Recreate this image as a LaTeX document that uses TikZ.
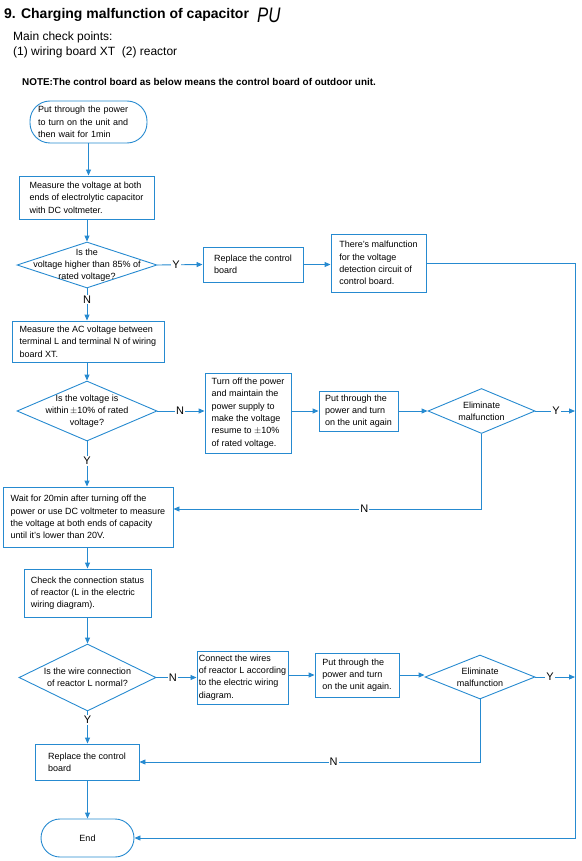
\documentclass[tikz,border=0pt]{standalone}
\usepackage{fontspec}
\setmainfont{Liberation Sans}
\usetikzlibrary{arrows.meta,shapes.geometric}
\definecolor{bl}{RGB}{38,138,208}
\newcommand{\bodyf}{\fontsize{9}{12.3}\selectfont}
\newcommand{\labf}{\fontsize{11}{11}\selectfont}
\tikzset{
  ln/.style={draw=bl, line width=0.9pt},
  arr/.style={ln, -{Triangle[length=6pt,width=5pt]}},
  box/.style={draw=bl, line width=0.9pt, inner xsep=3pt, inner ysep=1pt, align=left, font=\bodyf},
  dia/.style={draw=bl, line width=0.9pt, diamond, inner sep=0pt},
  dtext/.style={align=center, font=\bodyf, inner sep=0pt},
  term/.style={draw=bl, line width=0.9pt, font=\bodyf, align=left},
  lab/.style={fill=white, inner sep=1pt, font=\labf}
}
\begin{document}
\begin{tikzpicture}[x=1pt,y=-1pt]
\useasboundingbox (0,0) rectangle (581,861);
% header
\node[anchor=base west, font=\fontsize{14}{14}\selectfont\bfseries, inner sep=0] (title) at (4,19) {9. Charging malfunction of capacitor};
\node[anchor=base west, font=\fontsize{21}{21}\selectfont\itshape, inner sep=0] (pu) at (257,23) {\scalebox{0.8}[1]{PU}};
\node[anchor=base west, font=\fontsize{12}{12}\selectfont, inner sep=0] (mcp) at (13,41) {Main check points:};
\node[anchor=base west, font=\fontsize{12}{12}\selectfont, inner sep=0] (pts) at (13,56) {(1) wiring board XT\ \ (2) reactor};
\node[anchor=base west, font=\fontsize{9.9}{9.9}\selectfont\bfseries, inner sep=0] (note) at (22,86) {NOTE:The control board as below means the control board of outdoor unit.};

% nodes
\node[term, rounded corners=20pt, minimum width=117, minimum height=42, text width=101, inner xsep=8pt] (start) at (88.5,122) {Put through the power\\to turn on the unit and\\then wait for 1min};
\node[box, minimum width=135, minimum height=43] (b2) at (86.5,197.5) {Measure the voltage at both\\ends of electrolytic capacitor\\with DC voltmeter.};
\node[dia, minimum width=140, minimum height=46] (d1) at (87,265) {};
\node[dtext] (d1t) at (87,265) {Is the\\voltage higher than 85\% of\\rated voltage?};
\node[box, minimum width=100, minimum height=35] (b3) at (253,264.5) {Replace the control\\board\hspace*{50pt}};
\node[box, minimum width=95, minimum height=58] (b4) at (378.5,263) {There's malfunction\\for the voltage\\detection circuit of\\control board.};
\node[box, minimum width=152, minimum height=41] (b5) at (88,341.5) {Measure the AC voltage between\\terminal L and terminal N of wiring\\board XT.};
\node[dia, minimum width=140, minimum height=60] (d2) at (87,411) {};
\node[dtext] (d2t) at (87,411) {Is the voltage is\\within\,$\pm$10\% of rated\\voltage?};
\node[box, minimum width=86, minimum height=80] (b6) at (248,413) {Turn off the power\\and maintain the\\power supply to\\make the voltage\\resume to $\pm$10\%\\of rated voltage.};
\node[box, minimum width=79, minimum height=40] (b7) at (358.5,411) {Put through the\\power and turn\\on the unit again};
\node[dia, minimum width=107, minimum height=45] (d3) at (481.5,411) {};
\node[dtext] (d3t) at (481.5,411) {Eliminate\\malfunction};
\node[box, minimum width=170, minimum height=60] (b8) at (88,517) {Wait for 20min after turning off the\\power or use DC voltmeter to measure\\the voltage at both ends of capacity\\until it's lower than 20V.};
\node[box, minimum width=127, minimum height=48] (b9) at (87.5,593) {Check the connection status\\of reactor (L in the electric\\wiring diagram).};
\node[dia, minimum width=137, minimum height=67] (d4) at (87.5,677.5) {};
\node[dtext] (d4t) at (87.5,677.5) {Is the wire connection\\of reactor L normal?};
\node[box, minimum width=91, minimum height=53, inner xsep=2pt] (b10) at (242.5,677.5) {Connect the wires\\of reactor L according\\to the electric wiring\\diagram.};
\node[box, minimum width=84, minimum height=44] (b11) at (357,675) {Put through the\\power and turn\\on the unit again.};
\node[dia, minimum width=110, minimum height=44] (d5) at (480,677) {};
\node[dtext] (d5t) at (480,677) {Eliminate\\malfunction};
\node[box, minimum width=104, minimum height=36] (b12) at (87,762) {Replace the control\\board};
\node[term, rounded corners=19pt, minimum width=93, minimum height=38, align=center] (end) at (87.5,838) {End};

\coordinate (rb) at (575,838);
\coordinate (r1) at (575,411);
\coordinate (r2) at (575,677);
\coordinate (n1) at (481.5,509);
\coordinate (n2) at (480,762);

% connectors
\draw[arr] (start.south) -- (start.south |- b2.north);
\draw[arr] (d1.north |- b2.south) -- (d1.north);
\draw[arr] (d1.east) -- node[lab, pos=0.41] {Y} (b3.west);
\draw[arr] (b3.east) -- (b3.east -| b4.west);
\draw[arr] (b4.east) -| (rb) -- (end.east);
\draw[arr] (d1.south) -- node[lab, pos=0.35] {N} (d1.south |- b5.north);
\draw[arr] (d2.north |- b5.south) -- (d2.north);
\draw[arr] (d2.east) -- node[lab, pos=0.48] {N} (d2.east -| b6.west);
\draw[arr] (b7.west -| b6.east) -- (b7.west);
\draw[arr] (b7.east) -- (d3.west);
\draw[arr] (d3.east) -- node[lab, pos=0.52] {Y} (r1);
\draw[arr] (d3.south) -- (n1) -- node[lab, pos=0.38] {N} (n1 -| b8.east);
\draw[arr] (d2.south) -- node[lab, pos=0.43] {Y} (d2.south |- b8.north);
\draw[arr] (b8.south -| b9.north) -- (b9.north);
\draw[arr] (b9.south -| d4.north) -- (d4.north);
\draw[arr] (d4.east) -- node[lab, pos=0.41] {N} (d4.east -| b10.west);
\draw[arr] (b10.east |- b11.west) -- (b11.west);
\draw[arr] (b11.east) -- (b11.east -| d5.west);
\draw[arr] (d5.east) -- node[lab, pos=0.37] {Y} (r2);
\draw[arr] (d5.south) -- (n2) -- node[lab, pos=0.43] {N} (b12.east);
\draw[arr] (d4.south) -- node[lab, pos=0.27] {Y} (d4.south |- b12.north);
\draw[arr] (b12.south -| end.north) -- (end.north);
\end{tikzpicture}
\end{document}
